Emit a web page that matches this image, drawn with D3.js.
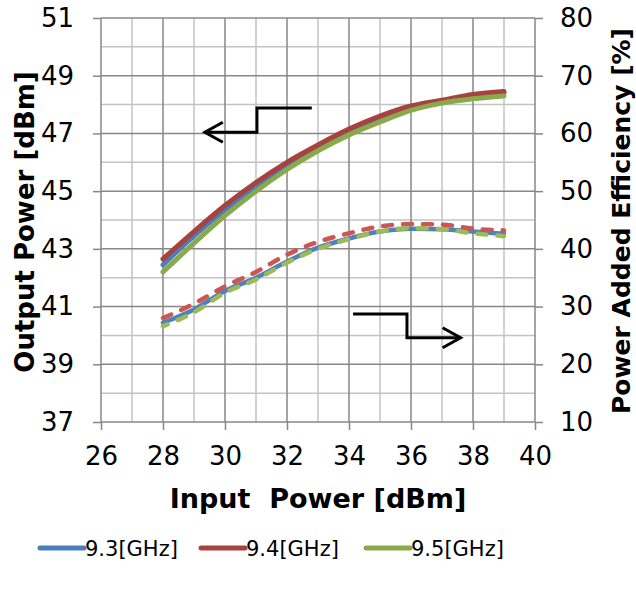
<!DOCTYPE html>
<html>
<head>
<meta charset="utf-8">
<script src="https://cdn.jsdelivr.net/npm/d3@7"></script>
<style>
    body { margin: 0; background: #fff; }
    text { font-family: "DejaVu Sans", Verdana, sans-serif; fill: #000; }
</style>
</head>
<body>
<div id="chart"></div>
<script>
var width = 636;
var height = 589;
var margin = {top: 18, right: 101, bottom: 167, left: 101};

// 输入功率
var inputPower = [28, 29, 30, 31, 32, 33, 34, 35, 36, 37, 38, 39];
var freqs = ['9.3[GHz]', '9.4[GHz]', '9.5[GHz]'];

// 输出功率 [dBm]
var pout93 = [42.45, 43.45, 44.35, 45.15, 45.9, 46.5, 47.05, 47.5, 47.85, 48.1, 48.3, 48.4];
var pout94 = [42.65, 43.6, 44.5, 45.3, 46.0, 46.6, 47.15, 47.6, 47.95, 48.15, 48.35, 48.45];
var pout95 = [42.2, 43.2, 44.15, 45.0, 45.75, 46.4, 46.95, 47.4, 47.8, 48.05, 48.2, 48.3];

// 功率附加效率 [%]
var pae93 = [27.2, 29.5, 32.7, 35.0, 37.8, 40.2, 41.8, 43.0, 43.5, 43.4, 43.0, 42.6];
var pae94 = [28.0, 30.5, 33.5, 36.0, 39.0, 41.2, 42.7, 43.9, 44.3, 44.2, 43.5, 43.2];
var pae95 = [26.6, 29.0, 32.4, 34.7, 37.6, 40.0, 41.7, 43.0, 43.6, 43.4, 42.7, 42.2];

var xTicks = [26, 28, 30, 32, 34, 36, 38, 40];
var yLeftTicks = [37, 39, 41, 43, 45, 47, 49, 51];
var yRightTicks = [10, 20, 30, 40, 50, 60, 70, 80];

// 箭头 (数据坐标)
var arrowLeft = [[32.8, 47.88], [31.03, 47.88], [31.03, 47.04], [29.35, 47.04]];
var arrowRight = [[34.13, 28.7], [35.87, 28.7], [35.87, 24.6], [37.6, 24.6]];

var solidColors = ['#4a7ebb', '#a8423f', '#89a94a'];
var dashColors = ['#4f81bd', '#cd5552', '#9bbb59'];

var x = d3.scaleLinear().domain([26, 40]).range([margin.left, width - margin.right]);
var yL = d3.scaleLinear().domain([37, 51]).range([height - margin.bottom, margin.top]);
var yR = d3.scaleLinear().domain([10, 80]).range([height - margin.bottom, margin.top]);

var svg = d3.select('#chart').append('svg')
    .attr('width', width)
    .attr('height', height);

// 网格
var grid = svg.append('g');
d3.range(27, 40, 2).forEach(function (v) {
    grid.append('line')
        .attr('x1', x(v)).attr('x2', x(v))
        .attr('y1', yL(37)).attr('y2', yL(51))
        .attr('stroke', '#c3c3c3').attr('stroke-width', 1.5);
});
d3.range(38, 51, 2).forEach(function (v) {
    grid.append('line')
        .attr('x1', x(26)).attr('x2', x(40))
        .attr('y1', yL(v)).attr('y2', yL(v))
        .attr('stroke', '#c3c3c3').attr('stroke-width', 1.5);
});
xTicks.forEach(function (v) {
    grid.append('line')
        .attr('x1', x(v)).attr('x2', x(v))
        .attr('y1', yL(37)).attr('y2', yL(51))
        .attr('stroke', '#878787').attr('stroke-width', 1.5);
});
yLeftTicks.forEach(function (v) {
    grid.append('line')
        .attr('x1', x(26)).attr('x2', x(40))
        .attr('y1', yL(v)).attr('y2', yL(v))
        .attr('stroke', '#878787').attr('stroke-width', 1.5);
});

// 坐标轴
function styleAxis(g) {
    g.select('.domain').remove();
    g.selectAll('.tick line').attr('stroke', '#878787').attr('stroke-width', 1.5);
    g.selectAll('.tick text').style('font-size', '26px');
}

svg.append('g')
    .attr('transform', 'translate(0,' + yL(37) + ')')
    .call(d3.axisBottom(x).tickValues(xTicks).tickSize(8).tickPadding(17))
    .call(styleAxis);

svg.append('g')
    .attr('transform', 'translate(' + x(26) + ',0)')
    .call(d3.axisLeft(yL).tickValues(yLeftTicks).tickSize(8).tickPadding(19))
    .call(styleAxis);

svg.append('g')
    .attr('transform', 'translate(' + x(40) + ',0)')
    .call(d3.axisRight(yR).tickValues(yRightTicks).tickSize(8).tickPadding(17))
    .call(styleAxis);

// 标题
svg.append('text')
    .attr('x', (x(26) + x(40)) / 2).attr('y', 508)
    .attr('text-anchor', 'middle')
    .style('font-size', '27px').style('font-weight', 'bold')
    .attr('xml:space', 'preserve')
    .text('Input  Power [dBm]');

svg.append('text')
    .attr('transform', 'translate(34,' + (yL(44) + 2) + ') rotate(-90)')
    .attr('text-anchor', 'middle')
    .style('font-size', '26px').style('font-weight', 'bold')
    .text('Output Power [dBm]');

svg.append('text')
    .attr('transform', 'translate(630,' + (yL(44) + 1) + ') rotate(-90)')
    .attr('text-anchor', 'middle')
    .style('font-size', '25px').style('font-weight', 'bold')
    .text('Power Added Efficiency [%]');

// 曲线
var lineL = d3.line().x(function (d, i) { return x(inputPower[i]); }).y(function (d) { return yL(d); }).curve(d3.curveMonotoneX);
var lineR = d3.line().x(function (d, i) { return x(inputPower[i]); }).y(function (d) { return yR(d); }).curve(d3.curveMonotoneX);

var plot = svg.append('g').attr('fill', 'none').attr('stroke-linecap', 'round').attr('stroke-linejoin', 'round');

[pae93, pae94, pae95].forEach(function (s, i) {
    plot.append('path')
        .attr('d', lineR(s))
        .attr('stroke', dashColors[i])
        .attr('stroke-width', 4.5)
        .attr('stroke-dasharray', i === 0 ? null : '9,11')
        .attr('stroke-dashoffset', i === 2 ? 4 : 0);
});

[pout93, pout94, pout95].forEach(function (s, i) {
    plot.append('path')
        .attr('d', lineL(s))
        .attr('stroke', solidColors[i])
        .attr('stroke-width', 5);
});

// 箭头
function drawArrow(pts, yScale) {
    var p = pts.map(function (d) { return [x(d[0]), yScale(d[1])]; });
    svg.append('path')
        .attr('d', d3.line()(p))
        .attr('fill', 'none').attr('stroke', '#000').attr('stroke-width', 3);
    var end = p[p.length - 1];
    var dir = end[0] < p[p.length - 2][0] ? 1 : -1;
    svg.append('path')
        .attr('d', d3.line()([[end[0] + dir * 18, end[1] - 10], end, [end[0] + dir * 18, end[1] + 10]]))
        .attr('fill', 'none').attr('stroke', '#000').attr('stroke-width', 3);
}
drawArrow(arrowLeft, yL);
drawArrow(arrowRight, yR);

// 图例
var legendX = [40, 201, 366];
var legend = svg.append('g');
freqs.forEach(function (f, i) {
    legend.append('line')
        .attr('x1', legendX[i]).attr('x2', legendX[i] + 44)
        .attr('y1', 548).attr('y2', 548)
        .attr('stroke', solidColors[i]).attr('stroke-width', 5)
        .attr('stroke-linecap', 'round');
    legend.append('text')
        .attr('x', legendX[i] + 45).attr('y', 556)
        .style('font-size', '21px')
        .text(f);
});
</script>
</body>
</html>
